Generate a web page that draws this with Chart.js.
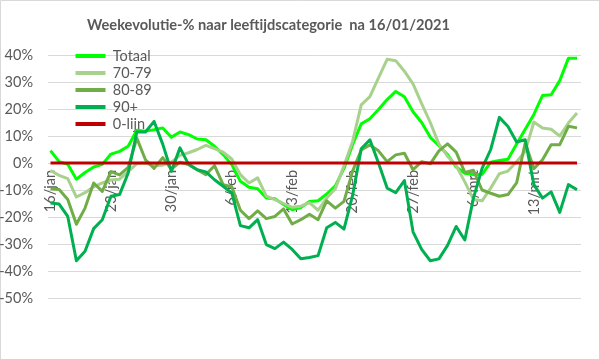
<!DOCTYPE html>
<html>
<head>
<meta charset="utf-8">
<script src="https://cdn.jsdelivr.net/npm/chart.js@4/dist/chart.umd.min.js"></script>
<style>
html,body{margin:0;padding:0;background:#ffffff;}
canvas{display:block;}
</style>
</head>
<body>
<canvas id="c" width="599" height="359"></canvas>
<script>
const titleText = 'Weekevolutie-% naar leeftijdscategorie  na 16/01/2021';

const categories = [
  '16/jan','17/jan','18/jan','19/jan','20/jan','21/jan','22/jan','23/jan','24/jan','25/jan','26/jan','27/jan','28/jan','29/jan','30/jan','31/jan',
  '1/feb','2/feb','3/feb','4/feb','5/feb','6/feb','7/feb','8/feb','9/feb','10/feb','11/feb','12/feb','13/feb','14/feb','15/feb','16/feb','17/feb','18/feb','19/feb','20/feb','21/feb','22/feb','23/feb','24/feb','25/feb','26/feb','27/feb','28/feb',
  '1/mrt','2/mrt','3/mrt','4/mrt','5/mrt','6/mrt','7/mrt','8/mrt','9/mrt','10/mrt','11/mrt','12/mrt','13/mrt','14/mrt','15/mrt','16/mrt','17/mrt','18/mrt'
];

const tickLabels = ['16/jan','23/jan','30/jan','6/feb','13/feb','20/feb','27/feb','6/mrt','13/mrt'];

const seriesNames = ['Totaal','70-79','80-89','90+','0-lijn'];

const totaal = [
  4.6, 0.5, -0.5, -6, -3.5, -1.5, -0.5, 3.3, 4.3, 6.2,
  12.1, 11.8, 12.3, 13, 9.5, 11.5, 10.5, 8.9, 8.6, 6.2,
  3.1, -0.6, -6.8, -9, -9.5, -13, -13.2, -15.4, -17.3, -16.5,
  -14.3, -14, -11.5, -8.5, -2, 6.8, 14.5, 16.4, 19.8, 23.5,
  26.5, 24.5, 19, 15, 9.5, 6.4, 3.1, -1.5, -3.8, -4.3,
  -4.2, 0.3, 0.9, 1.4, 7, 12.5, 18, 25, 25.3, 30.5,
  38.8, 38.8
];

const age7079 = [
  -2.8, -4.6, -5.8, -12.6, -11, -8.8, -7.4, -6.3, -6, -3.2,
  -0.2, 0, -1, -0.8, 0.3, 2.8, 3.8, 5, 6.5, 5.3,
  4, 1.5, -4.3, -7.4, -5.5, -12.3, -13.6, -15, -16.4, -16,
  -14.7, -17.5, -13, -9.5, -1, 8, 21.5, 24.6, 31.5, 38.4,
  37.9, 34, 29.3, 22, 15, 7, 2.5, -1, -7, -13.5,
  -14, -9.3, -4, -3, 0.5, 4.3, 15.2, 13, 12.5, 10,
  14.8, 18.5
];

const age8089 = [
  -9.5, -9.8, -13.5, -22.7, -16.7, -7.4, -10.5, -3.2, -4.4, -1.6,
  9.2, 1.2, -2, 2, -2.3, 0.3, -0.6, -2.5, -4.3, -1,
  -8, -8.8, -17.5, -20.6, -17.7, -20.6, -19.8, -17, -22.6, -21,
  -19, -21, -14, -16.7, -14.2, -3, 4.8, 6.7, 4.5, 0.5,
  3, 3.6, -2.5, 0.5, -0.3, 4.5, 7.1, 4, -3.5, -2.7,
  -10, -11.2, -12.3, -11.7, -7.4, 7.5, -2.1, 1.2, 6.8, 6.8,
  13.6, 13
];

const age90plus = [
  -14.8, -15.2, -19.8, -36.2, -32.7, -24.3, -21, -12.3, -11.7, -3.7,
  11.5, 11.5, 15.4, 7, -3.1, 5.6, -0.5, -2.5, -3.3, -6.2,
  -8.6, -11.1, -23.2, -24, -21, -30.2, -31.7, -29.3, -32, -35.5,
  -35, -34.3, -24, -22, -24.5, -12, 5.3, 8.6, 0, -9.3,
  -11, -6.5, -25.5, -32, -36.2, -35.5, -30.5, -23.5, -28.5, -13,
  -2, 5, 16.9, 13.5, 7.8, 8.6, -8, -13, -10.7, -18.3,
  -8, -9.9
];

const nulLijn = [
  0, 0, 0, 0, 0, 0, 0, 0, 0, 0,
  0, 0, 0, 0, 0, 0, 0, 0, 0, 0,
  0, 0, 0, 0, 0, 0, 0, 0, 0, 0,
  0, 0, 0, 0, 0, 0, 0, 0, 0, 0,
  0, 0, 0, 0, 0, 0, 0, 0, 0, 0,
  0, 0, 0, 0, 0, 0, 0, 0, 0, 0,
  0, 0
];

const colors = ['#00ff00', '#a9d18e', '#70ad47', '#00b050', '#c00000'];
const textColor = '#595959';
const FONT = 'Lato';
const TICK_SIZE = 14.5;

const toPoints = arr => arr.map((v, i) => ({ x: i, y: v }));
const tickIndices = tickLabels.map(l => categories.indexOf(l));
const allSeries = [totaal, age7079, age8089, age90plus, nulLijn];

const datasets = allSeries.map((arr, k) => ({
  label: seriesNames[k],
  data: toPoints(arr),
  borderColor: colors[k],
  backgroundColor: colors[k],
  borderWidth: 3,
  pointRadius: 0,
  pointHoverRadius: 0,
  pointBorderWidth: 3,
  tension: 0,
  borderJoinStyle: 'round',
  order: allSeries.length - 1 - k
}));

const framePlugin = {
  id: 'frame',
  beforeDraw(chart) {
    const ctx = chart.ctx;
    ctx.save();
    ctx.fillStyle = '#ffffff';
    ctx.fillRect(0, 0, chart.width, chart.height);
    ctx.strokeStyle = '#d9d9d9';
    ctx.lineWidth = 1;
    ctx.beginPath();
    ctx.moveTo(0.5, chart.height);
    ctx.lineTo(0.5, 0.5);
    ctx.lineTo(chart.width, 0.5);
    ctx.stroke();
    ctx.restore();
  },
  afterLayout(chart) {
    const lg = chart.legend;
    if (lg) {
      lg.left = 73;
      lg.top = 46.25;
      lg.right = lg.left + 200;
      lg.bottom = lg.top + 200;
    }
  },
  afterDraw(chart) {
    const ctx = chart.ctx;
    ctx.save();
    ctx.font = 'bold 15px ' + FONT;
    const w = ctx.measureText(titleText).width;
    const size = 15 * 363 / w;
    ctx.font = 'bold ' + size.toFixed(2) + 'px ' + FONT;
    ctx.fillStyle = textColor;
    ctx.textAlign = 'center';
    ctx.textBaseline = 'middle';
    ctx.fillText(titleText, 268.5, 25);
    ctx.restore();
  }
};

new Chart(document.getElementById('c'), {
  type: 'line',
  data: { datasets },
  options: {
    responsive: false,
    animation: false,
    devicePixelRatio: 1,
    layout: { padding: { top: 55, right: 18, bottom: 61, left: 0 } },
    scales: {
      x: {
        type: 'linear',
        position: { y: 0 },
        min: -0.29,
        max: 61.46,
        grid: { display: false, drawTicks: false },
        border: { display: false },
        afterBuildTicks: s => { s.ticks = tickIndices.map(v => ({ value: v })); },
        ticks: {
          minRotation: 90,
          maxRotation: 90,
          autoSkip: false,
          padding: 7,
          color: textColor,
          font: { family: FONT, size: TICK_SIZE },
          callback: v => categories[v]
        }
      },
      y: {
        min: -50,
        max: 40,
        grid: { color: '#d9d9d9', lineWidth: 1, drawTicks: false },
        border: { display: false },
        afterFit: s => { s.width = 48; },
        ticks: {
          stepSize: 10,
          padding: 15,
          color: textColor,
          font: { family: FONT, size: TICK_SIZE },
          callback: v => v + '%'
        }
      }
    },
    plugins: {
      tooltip: { enabled: false },
      title: { display: false },
      legend: {
        position: 'chartArea',
        align: 'start',
        labels: {
          color: textColor,
          font: { family: FONT, size: TICK_SIZE },
          usePointStyle: true,
          pointStyle: 'line',
          pointStyleWidth: 30,
          padding: 2.5,
          sort: (a, b) => a.datasetIndex - b.datasetIndex,
          generateLabels: chart => Chart.defaults.plugins.legend.labels.generateLabels(chart).map(l => Object.assign(l, {
            lineWidth: 4,
            strokeStyle: colors[l.datasetIndex],
            fillStyle: colors[l.datasetIndex],
            pointStyle: 'line',
            fontColor: textColor
          }))
        }
      }
    }
  },
  plugins: [framePlugin]
});
</script>
</body>
</html>
